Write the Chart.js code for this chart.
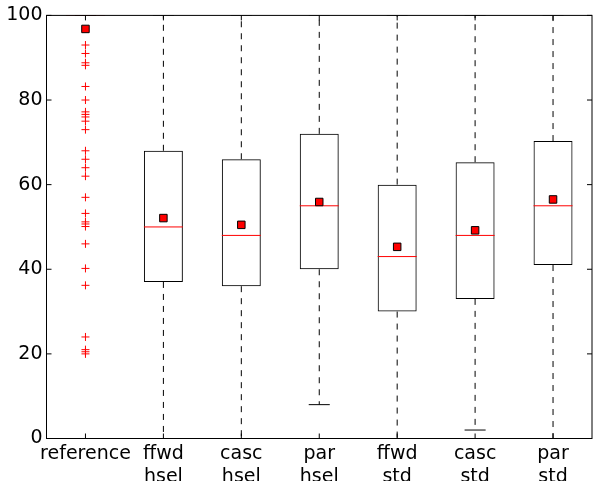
<!DOCTYPE html>
<html>
<head>
<meta charset="utf-8">
<script src="https://cdn.jsdelivr.net/npm/chart.js@4.4.0/dist/chart.umd.min.js"></script>
<style>
  html, body { margin: 0; padding: 0; background: #fff; }
  #wrap { width: 593px; height: 481px; }
</style>
</head>
<body>
<div id="wrap"><canvas id="boxChart"></canvas></div>
<script>
const categories = ['reference', ['ffwd', 'hsel'], ['casc', 'hsel'], ['par', 'hsel'], ['ffwd', 'std'], ['casc', 'std'], ['par', 'std']];
const q1 = [100, 37, 36, 40, 30, 33, 41];
const q3 = [100, 68, 66, 72, 60, 65.3, 70.3];
const medians = [100, 50, 48, 55, 43, 48, 55];
const means = [96.8, 52.1, 50.5, 55.9, 45.3, 49.2, 56.5];
const whiskerLow = [100, 0, 0, 8, 0, 2, 0];
const whiskerHigh = [100, 100, 100, 100, 100, 100, 100];
const refOutliers = [93, 91, 88.8, 88.2, 83.2, 80, 77.2, 76.6, 76, 75, 73, 68, 66, 64, 62, 57,
  53.2, 51.2, 50.7, 50.1, 46, 40.2, 36.2, 24, 21, 20.5, 20];
const yTicks = [0, 20, 40, 60, 80, 100];

const FONT = 'DejaVu Sans';
const BOX_HALF = 0.25;
const CAP_HALF = 0.135;

// turn [x1, y1, x2, y2] pieces into one line with gaps between them
function segments(list) {
  const pts = [];
  list.forEach(([x1, y1, x2, y2]) => {
    pts.push({ x: x1, y: y1 }, { x: x2, y: y2 }, { x: x2, y: null });
  });
  return pts;
}

const whiskerPts = segments(categories.flatMap((c, i) => [
  [i, q3[i], i, whiskerHigh[i]],
  [i, q1[i], i, whiskerLow[i]],
]));
const capPts = segments(categories.flatMap((c, i) => [
  [i - CAP_HALF, whiskerHigh[i], i + CAP_HALF, whiskerHigh[i]],
  [i - CAP_HALF, whiskerLow[i], i + CAP_HALF, whiskerLow[i]],
]));
const medianPts = segments(categories.map((c, i) => [i - BOX_HALF, medians[i], i + BOX_HALF, medians[i]]));
const meanPts = means.map((m, i) => ({ x: i, y: m }));
const outlierPts = refOutliers.map((v) => ({ x: 0, y: v }));

// frame on all four sides plus inward ticks, like the old matplotlib look
const framePlugin = {
  id: 'frame',
  afterDatasetsDraw(chart) {
    const { ctx, chartArea: a, scales } = chart;
    ctx.save();
    ctx.strokeStyle = '#000';
    ctx.lineWidth = 1;
    ctx.strokeRect(a.left, a.top, a.right - a.left, a.bottom - a.top);
    ctx.beginPath();
    yTicks.forEach((v) => {
      const py = scales.y.getPixelForValue(v);
      ctx.moveTo(a.left, py); ctx.lineTo(a.left + 5, py);
      ctx.moveTo(a.right, py); ctx.lineTo(a.right - 5, py);
    });
    categories.forEach((c, i) => {
      const px = scales.x.getPixelForValue(i);
      ctx.moveTo(px, a.bottom); ctx.lineTo(px, a.bottom - 5);
      ctx.moveTo(px, a.top); ctx.lineTo(px, a.top + 5);
    });
    ctx.stroke();
    ctx.restore();
  },
};

const lineDefaults = {
  type: 'line',
  xAxisID: 'x2',
  yAxisID: 'y',
  pointRadius: 0,
  borderWidth: 1,
  spanGaps: false,
  fill: false,
};

new Chart(document.getElementById('boxChart').getContext('2d'), {
  type: 'bar',
  data: {
    labels: categories,
    datasets: [
      {
        label: 'boxes',
        data: categories.map((c, i) => [q1[i], q3[i]]),
        backgroundColor: 'rgba(0,0,0,0)',
        borderColor: '#000',
        borderWidth: 1,
        borderSkipped: false,
        grouped: false,
        barPercentage: 0.5,
        categoryPercentage: 1,
        order: 5,
      },
      { ...lineDefaults, label: 'whiskers', data: whiskerPts, borderColor: '#000', borderDash: [6, 6], order: 4 },
      { ...lineDefaults, label: 'caps', data: capPts, borderColor: '#000', order: 3 },
      { ...lineDefaults, label: 'medians', data: medianPts, borderColor: '#ff0000', order: 2 },
      {
        ...lineDefaults,
        label: 'outliers',
        data: outlierPts,
        showLine: false,
        pointStyle: 'cross',
        pointRadius: 4,
        pointBorderColor: '#ff0000',
        pointBorderWidth: 1,
        order: 1,
      },
      {
        ...lineDefaults,
        label: 'means',
        data: meanPts,
        showLine: false,
        pointStyle: 'rect',
        pointRadius: 5.3,
        pointBackgroundColor: '#ff0000',
        pointBorderColor: '#000',
        pointBorderWidth: 1,
        order: 0,
      },
    ],
  },
  options: {
    responsive: true,
    maintainAspectRatio: false,
    animation: false,
    layout: { autoPadding: false, padding: { top: 15, left: 0, right: 1, bottom: 0 } },
    plugins: {
      legend: { display: false },
      tooltip: { enabled: false },
    },
    scales: {
      x: {
        type: 'category',
        grid: { display: false },
        border: { display: false },
        ticks: {
          color: '#000',
          font: { family: FONT, size: 19 },
          padding: -4,
          maxRotation: 0,
          autoSkip: false,
        },
        afterFit: (scale) => {
          scale.height = 42.5;
          scale.paddingLeft = 0;
          scale.paddingRight = 0;
        },
      },
      x2: {
        type: 'linear',
        display: false,
        min: -0.5,
        max: 6.5,
        offset: false,
        ticks: { display: false },
      },
      y: {
        min: 0,
        max: 100,
        grid: { display: false, drawTicks: false },
        border: { display: false },
        ticks: {
          stepSize: 20,
          color: '#000',
          font: { family: FONT, size: 19 },
          padding: 4,
        },
        afterFit: (scale) => { scale.width = 46.5; },
      },
    },
  },
  plugins: [framePlugin],
});
</script>
</body>
</html>
